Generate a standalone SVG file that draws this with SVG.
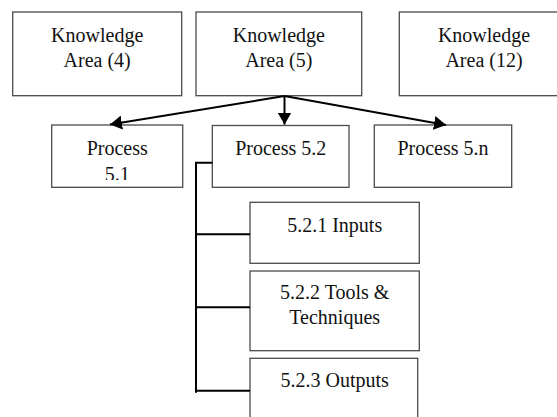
<svg xmlns="http://www.w3.org/2000/svg" width="557" height="417" viewBox="0 0 557 417">
<style>
.box{fill:#fff;stroke:#4a4a4a;stroke-width:1.3}
.t{font-family:'Liberation Serif','DejaVu Serif',serif;font-size:20px;fill:#111;text-anchor:middle}
.c{fill:none;stroke:#000;stroke-width:2}
</style>
<defs>
<marker id="ah" viewBox="0 0 12 14" refX="12" refY="7" markerWidth="12" markerHeight="14" markerUnits="userSpaceOnUse" orient="auto">
<path d="M0,0 L12,7 L0,14 z" fill="#000"/>
</marker>
<clipPath id="clip51"><rect x="52" y="125" width="131" height="55"/></clipPath>
</defs>
<rect width="557" height="417" fill="#fff"/>
<g id="ka4"><rect class="box" x="12.7" y="12" width="169" height="83.7"/><text class="t" font-family="Liberation Serif, serif" x="97.2" y="41.5">Knowledge</text><text class="t" font-family="Liberation Serif, serif" x="97.2" y="66.5">Area (4)</text></g>
<g id="ka5"><rect class="box" x="196" y="12" width="165.7" height="83.7"/><text class="t" x="278.8" y="41.5">Knowledge</text><text class="t" x="278.8" y="66.5">Area (5)</text></g>
<g id="ka12"><rect class="box" x="399.3" y="12" width="170" height="83.7"/><text class="t" x="484" y="41.5">Knowledge</text><text class="t" x="484" y="66.5">Area (12)</text></g>
<g id="p51"><rect class="box" x="51.7" y="125" width="131" height="62.3"/><text class="t" x="117.2" y="155">Process</text><text class="t" x="117.2" y="181" clip-path="url(#clip51)">5.1</text></g>
<g id="p52"><rect class="box" x="212.3" y="125.5" width="136.7" height="61.8"/><text class="t" x="280.7" y="155">Process 5.2</text></g>
<g id="p5n"><rect class="box" x="374.3" y="125" width="137.4" height="62.3"/><text class="t" x="443" y="155">Process 5.n</text></g>
<g id="in"><rect class="box" x="250" y="202.3" width="169.3" height="61"/><text class="t" x="334.7" y="231.7">5.2.1 Inputs</text></g>
<g id="tools"><rect class="box" x="250" y="271" width="169.3" height="79.7"/><text class="t" x="334.7" y="299.3">5.2.2 Tools &amp;</text><text class="t" x="334.7" y="324.3">Techniques</text></g>
<g id="out"><rect class="box" x="250" y="358.3" width="167.7" height="70"/><text class="t" x="334.7" y="386.7">5.2.3 Outputs</text></g>
<g id="connectors">
<line class="c" x1="284.5" y1="96" x2="110" y2="124.5" marker-end="url(#ah)"/>
<line class="c" x1="284.5" y1="96" x2="284.5" y2="124.5" marker-end="url(#ah)"/>
<line class="c" x1="284.5" y1="96" x2="446" y2="125" marker-end="url(#ah)"/>
<polyline class="c" points="212.3,162.7 196,162.7 196,392.7"/>
<line class="c" x1="196" y1="234.3" x2="250" y2="234.3"/>
<line class="c" x1="196" y1="307.3" x2="250" y2="307.3"/>
<line class="c" x1="196" y1="390.7" x2="250" y2="390.7"/>
</g>
</svg>
